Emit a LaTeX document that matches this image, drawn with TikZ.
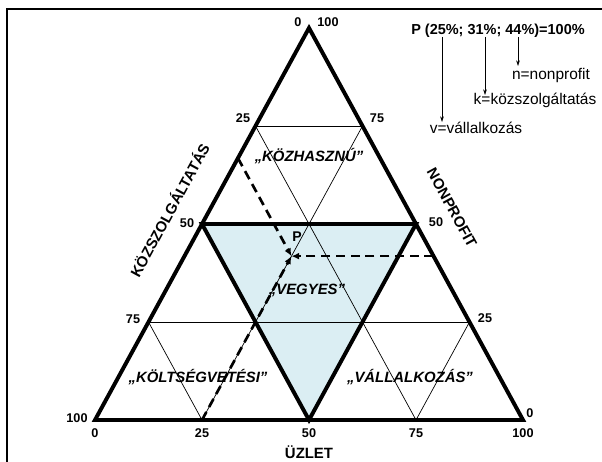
\documentclass[tikz,border=0pt]{standalone}
\usepackage{fontspec}
\setmainfont{Liberation Sans}
\usetikzlibrary{positioning,arrows.meta,calc}
\definecolor{mixfill}{RGB}{219,238,243}

\begin{document}
\begin{tikzpicture}[
  x=0.025cm, y=0.025cm,
  edge/.style={line width=2.8pt},
  gridline/.style={line width=0.5pt},
  guide/.style={dash pattern=on 6.5pt off 4pt, line width=1.9pt, -{Latex[length=5.5pt,width=5pt]}},
  pointer/.style={line width=0.4pt, -{Stealth[length=4pt,width=2.6pt]}},
  tick/.style={font=\bfseries\fontsize{9}{10}\selectfont, inner sep=0pt},
  axis/.style={font=\bfseries\fontsize{10.6}{12}\selectfont, inner sep=0pt},
  region/.style={font=\bfseries\itshape\fontsize{10.6}{12}\selectfont, inner sep=0pt},
  note/.style={font=\fontsize{11}{12}\selectfont, inner sep=0pt}
]
\useasboundingbox (-95,-41) rectangle (507,420);
\clip (-95,-41) rectangle (507,420);
\draw[line width=1.4pt] (-88,-80) rectangle (530,411);

% triangle corners and quarter points
\coordinate (apex) at (214,392);
\coordinate (bleft) at (0,0);
\coordinate (bright) at (428,0);
\coordinate (l25) at ($(apex)!0.25!(bleft)$);
\coordinate (l50) at ($(apex)!0.5!(bleft)$);
\coordinate (l75) at ($(apex)!0.75!(bleft)$);
\coordinate (r25) at ($(apex)!0.25!(bright)$);
\coordinate (r50) at ($(apex)!0.5!(bright)$);
\coordinate (r75) at ($(apex)!0.75!(bright)$);
\coordinate (b25) at ($(bleft)!0.25!(bright)$);
\coordinate (b50) at ($(bleft)!0.5!(bright)$);
\coordinate (b75) at ($(bleft)!0.75!(bright)$);

% mixed region
\fill[mixfill] (l50) -- (r50) -- (b50) -- cycle;

% thin grid
\draw[gridline] (l25) -- (r25);
\draw[gridline] (l75) -- (r75);
\draw[gridline] (l25) -- (b75);
\draw[gridline] (r25) -- (b25);
\draw[gridline] (l75) -- (b25);
\draw[gridline] (r75) -- (b75);

% thick borders
\draw[edge] (l50) -- (r50) -- (b50) -- cycle;
\draw[edge] (apex) -- (bleft) -- (bright) -- cycle;

% point P and its readings
\coordinate (p) at (barycentric cs:apex=0.418,bleft=0.332,bright=0.25);
\coordinate (pk) at (barycentric cs:apex=0.668,bleft=0.332);
\coordinate (pn) at (barycentric cs:apex=0.418,bright=0.582);
\draw[guide] (pk) -- (p);
\draw[guide] (pn) -- (p);
\draw[guide] (b25) -- (p);
\node[font=\bfseries\fontsize{10}{12}\selectfont] (plabel) at (202,183) {P};

% scale numbers
\node[tick] (t0a) at (203,398) {0};
\node[tick] (t100a) at (233,398) {100};
\node[tick] (tl25) at (148,302) {25};
\node[tick] (tl50) at (92,197) {50};
\node[tick] (tl75) at (38,101) {75};
\node[tick] (tl100) at (-18,2) {100};
\node[tick] (tr75) at (282,302) {75};
\node[tick] (tr50) at (341,198) {50};
\node[tick] (tr25) at (390,102) {25};
\node[tick] (tr0) at (435,7) {0};
\node[tick, below=6pt of bleft] (tb0) {0};
\node[tick, below=6pt of b25] (tb25) {25};
\node[tick, below=6pt of b50] (tb50) {50};
\node[tick, below=6pt of b75] (tb75) {75};
\node[tick, below=6pt of bright] (tb100) {100};

% axis titles
\node[axis] (uzlet) at (214,-32) {ÜZLET};
\node[axis, rotate=61.4] (kozsz) at (74,210) {KÖZSZOLGÁLTATÁS};
\node[axis, rotate=-61.4] (nonpr) at (357,212) {NONPROFIT};

% regions
\node[region] (kozh) at (214,264) {„KÖZHASZNÚ”};
\node[region] (vegy) at (212,130) {„VEGYES”};
\node[region] (kolt) at (103,43) {„KÖLTSÉGVETÉSI”};
\node[region] (vall) at (315,43) {„VÁLLALKOZÁS”};

% legend
\node[font=\bfseries\fontsize{10.3}{12}\selectfont, inner sep=0pt] (legend) at (403,389) {P (25\%; 31\%; 44\%)=100\%};
\node[note] (nnote) at (456,344) {n=nonprofit};
\node[note] (knote) at (440,320) {k=közszolgáltatás};
\node[note] (vnote) at (381,292) {v=vállalkozás};
\draw[pointer] (347,383) -- (347,298);
\draw[pointer] (390,383) -- (390,325);
\draw[pointer] (423,383) -- (423,354);
\end{tikzpicture}
\end{document}
